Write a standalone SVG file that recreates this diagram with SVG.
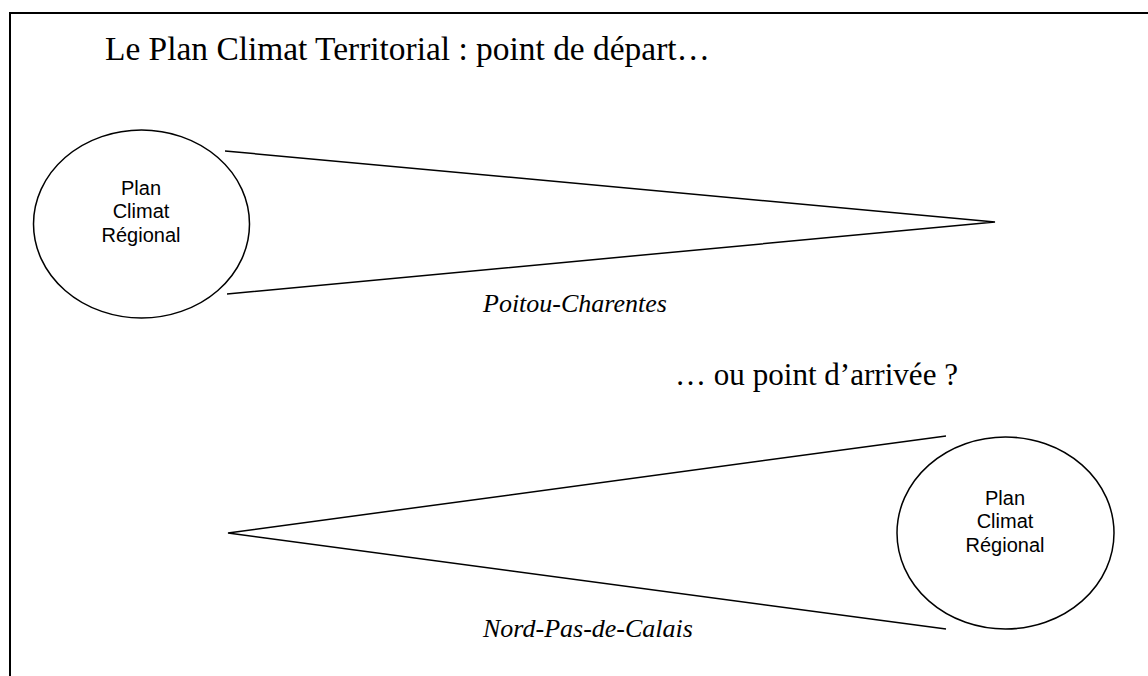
<svg xmlns="http://www.w3.org/2000/svg" width="1148" height="676" viewBox="0 0 1148 676">
<style>
.frame{fill:none;stroke:#000;stroke-width:2}
.ln{fill:none;stroke:#000;stroke-width:1.5}
.ell{fill:#fff;stroke:#000;stroke-width:1.5}
.big{font-family:"Liberation Serif",serif;fill:#000}
.it{font-family:"Liberation Serif",serif;font-size:26px;font-style:italic;fill:#000}
.node{font-family:"Liberation Sans",Arial,sans-serif;font-size:20px;fill:#000;text-anchor:middle}
</style>
<rect width="1148" height="676" fill="#fff"/>
<path class="frame" d="M10,676 V13 H1148"/>
<text class="big" x="105" y="60" font-size="33" textLength="605" lengthAdjust="spacingAndGlyphs">Le Plan Climat Territorial : point de départ…</text>
<text class="big" x="675" y="385" font-size="31" textLength="283" lengthAdjust="spacingAndGlyphs">… ou point d’arrivée ?</text>
<text class="it" x="483" y="312">Poitou-Charentes</text>
<text class="it" x="483" y="637">Nord-Pas-de-Calais</text>
<g id="connectors">
<polyline class="ln" points="225,151 995,222 227,294"/>
<polyline class="ln" points="946,436 228,533 946,629"/>
</g>
<g id="node-left">
<ellipse class="ell" cx="141.5" cy="224" rx="108" ry="94"/>
<text class="node" x="141" y="195">Plan</text>
<text class="node" x="141" y="218">Climat</text>
<text class="node" x="141" y="242">Régional</text>
</g>
<g id="node-right">
<ellipse class="ell" cx="1005.5" cy="533" rx="108.5" ry="96"/>
<text class="node" x="1005" y="505">Plan</text>
<text class="node" x="1005" y="528">Climat</text>
<text class="node" x="1005" y="552">Régional</text>
</g>
</svg>
